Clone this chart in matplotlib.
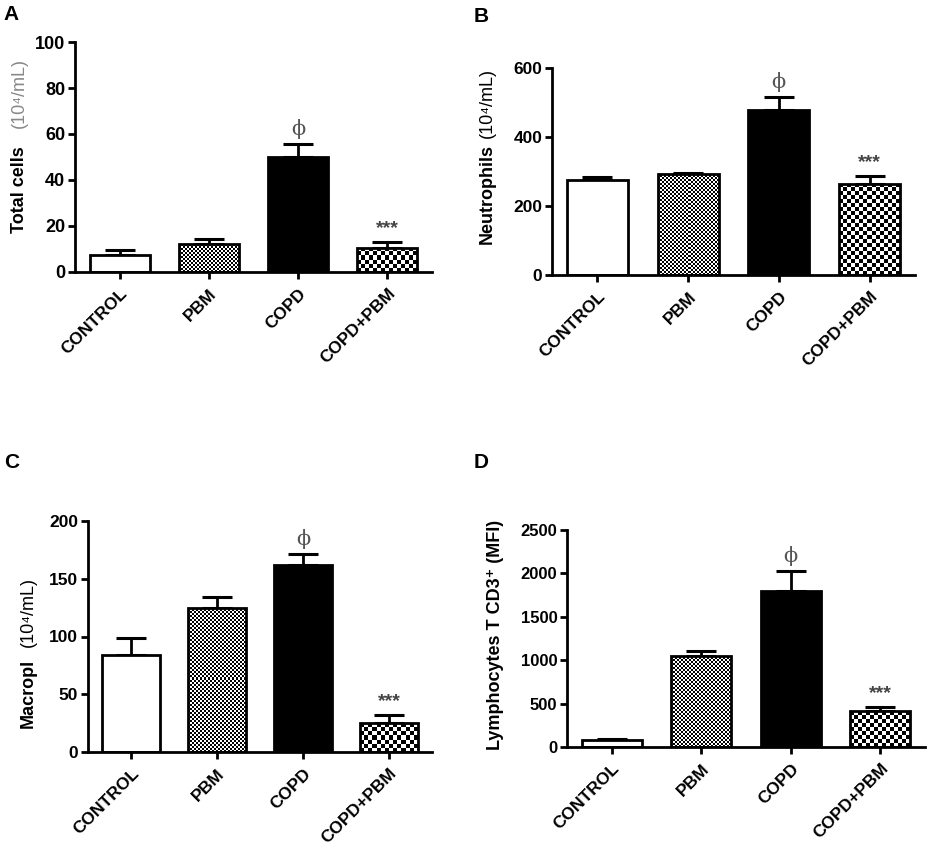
import numpy as np
import matplotlib
matplotlib.use("Agg")
import matplotlib.pyplot as plt

# ---------------- data ----------------
groups = ["CONTROL", "PBM", "COPD", "COPD+PBM"]

total_cells_mean = [7.5, 12.0, 50.0, 10.5]
total_cells_sem = [2.0, 2.5, 5.5, 2.5]
total_cells_ticks = [0, 20, 40, 60, 80, 100]

neutrophils_mean = [275, 293, 478, 265]
neutrophils_sem = [8, 2, 37, 22]
neutrophils_ticks = [0, 200, 400, 600]

macrophages_mean = [84, 125, 162, 25]
macrophages_sem = [15, 9, 9, 7]
macrophages_ticks = [0, 50, 100, 150, 200]

lymphocytes_mean = [80, 1050, 1800, 410]
lymphocytes_sem = [10, 60, 230, 50]
lymphocytes_ticks = [0, 500, 1000, 1500, 2000, 2500]

panel_letters = ["A", "B", "C", "D"]
phi_mark = "ϕ"
star_mark = "***"

# ---------------- style ----------------
W, H = 935, 850
fig = plt.figure(figsize=(W / 100, H / 100), dpi=100)
FONT = ["Liberation Sans", "DejaVu Sans"]
plt.rcParams["font.family"] = FONT

# bar style per group: (fill, checker cell px or None)
bar_styles = [("white", None), ("checker", 2.0), ("black", None), ("checker", 4.0)]


def px_rect(l, t, r, b):
    return [l / W, 1 - b / H, (r - l) / W, (b - t) / H]


def draw_checker(ax, bar, cell):
    bb = bar.get_window_extent()
    nx = max(1, int(round(bb.width / cell)))
    ny = max(1, int(round(bb.height / cell)))
    yy, xx = np.indices((ny, nx))
    img = ((xx + yy) % 2).astype(float)
    x0 = bar.get_x()
    x1 = x0 + bar.get_width()
    y0 = bar.get_y()
    y1 = y0 + bar.get_height()
    im = ax.imshow(img, extent=(x0, x1, y0, y1), cmap="gray", vmin=0, vmax=1,
                   interpolation="nearest", aspect="auto", origin="lower",
                   zorder=2.5)
    im.set_clip_path(bar)


def panel(rect, means, sems, ticks, ylabel_parts, ylabel_x, letter, letter_xy,
          ytick_size=12.5):
    ax = fig.add_axes(rect)
    x = np.arange(len(groups))
    ax.set_xlim(-0.5, len(groups) - 0.5)
    ax.set_ylim(0, ticks[-1])
    facecolors = []
    for fill, _ in bar_styles:
        facecolors.append("white" if fill == "checker" else fill)
    bars = ax.bar(x, means, width=0.67, color=facecolors, edgecolor="none", zorder=2)
    for b, (fill, cell) in zip(bars, bar_styles):
        if fill == "checker":
            draw_checker(ax, b, cell)
    ax.bar(x, means, width=0.67, fill=False, edgecolor="black", linewidth=2.0, zorder=3)
    ax.errorbar(x, means, yerr=[np.zeros(len(means)), sems], fmt="none",
                ecolor="black", elinewidth=2.0, capsize=11, capthick=2.2, zorder=1.5)
    ax.set_xlim(-0.5, len(groups) - 0.5)
    ax.set_ylim(0, ticks[-1])

    tops = np.array(means) + np.array(sems)
    ax.annotate(phi_mark, (x[2], tops[2]), xytext=(0, 11), textcoords="offset points",
                ha="center", va="center", fontsize=15, color="#555555",
                family=["DejaVu Serif"])
    ax.annotate(star_mark, (x[3], tops[3]), xytext=(0, 10), textcoords="offset points",
                ha="center", va="center", fontsize=14, color="#444444",
                fontweight="bold")

    for s in ["top", "right"]:
        ax.spines[s].set_visible(False)
    for s in ["left", "bottom"]:
        ax.spines[s].set_linewidth(2.0)
    ax.set_yticks(ticks)
    ax.set_yticklabels([str(t) for t in ticks], fontsize=ytick_size, fontweight="bold")
    ax.set_xticks(x)
    ax.set_xticklabels(groups, rotation=45, ha="right", rotation_mode="anchor",
                       fontsize=12.5, fontweight="bold")
    ax.tick_params(axis="both", direction="out", length=5, width=2.0, pad=2)
    ax.tick_params(axis="x", pad=5)

    # y label parts
    for txt, yc, weight, color in ylabel_parts:
        fig.text(ylabel_x / W, 1 - yc / H, txt, rotation=90, ha="center", va="center",
                 fontsize=13, fontweight=weight, color=color)
    fig.text(letter_xy[0] / W, 1 - letter_xy[1] / H, letter, ha="left", va="center",
             fontsize=15, fontweight="bold")
    return ax


panel(px_rect(75, 42, 432, 272), total_cells_mean, total_cells_sem, total_cells_ticks,
      [("Total cells", 190, "bold", "black"), ("(10⁴/mL)", 93, "normal", "#888888")],
      19, panel_letters[0], (3, 15), ytick_size=13)

panel(px_rect(552, 68, 915, 275), neutrophils_mean, neutrophils_sem, neutrophils_ticks,
      [("Neutrophils", 194, "bold", "black"), ("(10⁴/mL)", 103, "normal", "black")],
      487, panel_letters[1], (474, 16))

panel(px_rect(88, 521, 432, 752), macrophages_mean, macrophages_sem, macrophages_ticks,
      [("Macropl", 693, "bold", "black"), ("(10⁴/mL)", 612, "normal", "black")],
      28, panel_letters[2], (4, 463))

panel(px_rect(567, 530, 925, 747), lymphocytes_mean, lymphocytes_sem, lymphocytes_ticks,
      [("Lymphocytes T CD3⁺ (MFI)", 635, "bold", "black")],
      495, panel_letters[3], (474, 463), ytick_size=12)

fig.savefig("out.png", dpi=100, facecolor="white")
